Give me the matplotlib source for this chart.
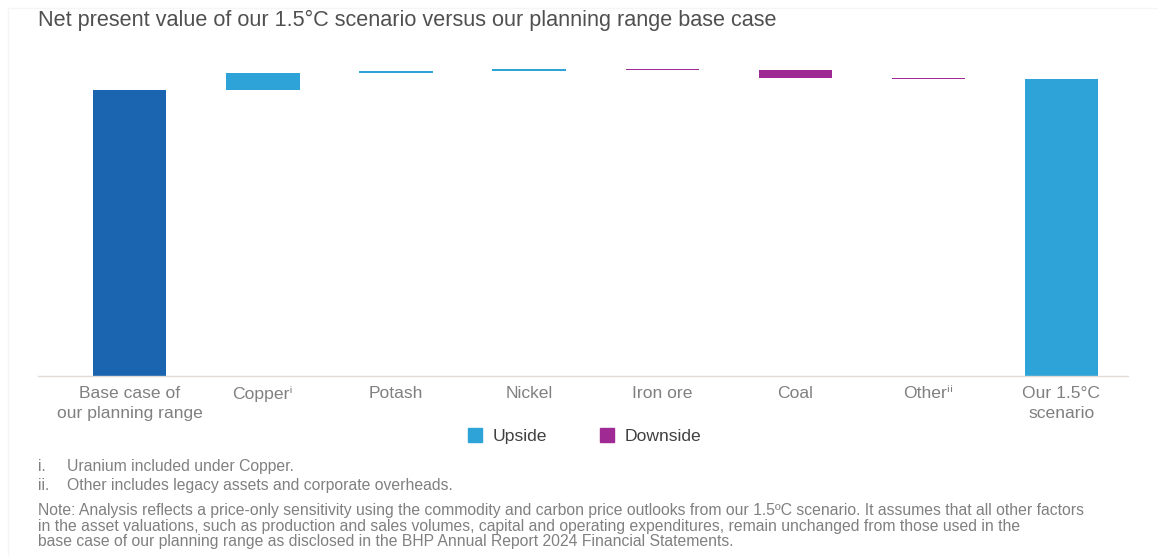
import numpy as np
import matplotlib.pyplot as plt
from matplotlib.patches import Patch, Rectangle

plt.rcParams['font.family'] = ['Liberation Sans', 'DejaVu Sans']

# data (index, base case = 100)
categories = ['Base case of\nour planning range', 'Copperⁱ', 'Potash', 'Nickel',
              'Iron ore', 'Coal', 'Otherⁱⁱ', 'Our 1.5°C\nscenario']
base_value = 100.0
deltas = [5.9, 0.6, 0.8, -0.3, -2.8, -0.4]   # Copper .. Other

C_BASE = '#1b64b0'
C_UP = '#2ea3d8'
C_DOWN = '#a02a93'
C_TEXT = '#808080'

fig = plt.figure(figsize=(11.58, 5.56), dpi=100)
# faint frame around the panel
fig.patches.append(Rectangle((8 / 1158, -0.01), 1.1, 1 - 8 / 556 + 0.01, transform=fig.transFigure,
                             fill=False, edgecolor='#f5f5f5', linewidth=1.0))
ax = fig.add_axes([38 / 1158, 180 / 556, 1090 / 1158, 316 / 556])

x = np.arange(len(categories))
w = 0.55

# base and final bars
final_value = base_value + sum(deltas)
ax.bar(x[0], base_value, width=w, color=C_BASE)
ax.bar(x[-1], final_value, width=w, color=C_UP)

# floating steps
cum = base_value
for i, d in enumerate(deltas, start=1):
    bottom = cum if d >= 0 else cum + d
    ax.bar(x[i], abs(d), bottom=bottom, width=w,
           color=C_UP if d >= 0 else C_DOWN)
    cum += d

ax.set_xlim(-0.69, 7.5)
ax.set_ylim(0, 110.5)
ax.set_yticks([])
ax.set_xticks(x)
ax.set_xticklabels(categories, fontsize=12.6, color=C_TEXT, linespacing=1.35)
ax.tick_params(axis='x', length=0, pad=7.5)
for s in ['top', 'right', 'left']:
    ax.spines[s].set_visible(False)
ax.spines['bottom'].set_color('#e2dcd6')
ax.spines['bottom'].set_linewidth(1.0)

fig.text(38 / 1158, 1 - 20 / 556, 'Net present value of our 1.5°C scenario versus our planning range base case',
         fontsize=15.6, color='#505050', va='center', ha='left')

handles = [Patch(color=C_UP, label='Upside'), Patch(color=C_DOWN, label='Downside')]
leg = fig.legend(handles=handles, loc='center', bbox_to_anchor=(0.505, 1 - 436 / 556), ncol=2,
                 frameon=False, fontsize=12.6, handlelength=0.8, handleheight=0.8,
                 handletextpad=0.6, columnspacing=3.0)
for t in leg.get_texts():
    t.set_color('#404040')

fn = 11.3
fig.text(38 / 1158, 1 - 471 / 556, 'i.', fontsize=fn, color=C_TEXT, va='baseline')
fig.text(67 / 1158, 1 - 471 / 556, 'Uranium included under Copper.', fontsize=fn, color=C_TEXT, va='baseline')
fig.text(38 / 1158, 1 - 490 / 556, 'ii.', fontsize=fn, color=C_TEXT, va='baseline')
fig.text(67 / 1158, 1 - 490 / 556, 'Other includes legacy assets and corporate overheads.', fontsize=fn,
         color=C_TEXT, va='baseline')
note = ('Note: Analysis reflects a price-only sensitivity using the commodity and carbon price outlooks from our 1.5ºC scenario. '
        'It assumes that all other factors\n'
        'in the asset valuations, such as production and sales volumes, capital and operating expenditures, '
        'remain unchanged from those used in the\n'
        'base case of our planning range as disclosed in the BHP Annual Report 2024 Financial Statements.')
fig.text(38 / 1158, 1 - 503 / 556, note, fontsize=fn, color=C_TEXT, va='top', linespacing=1.05)

fig.savefig('out.png', dpi=100)
